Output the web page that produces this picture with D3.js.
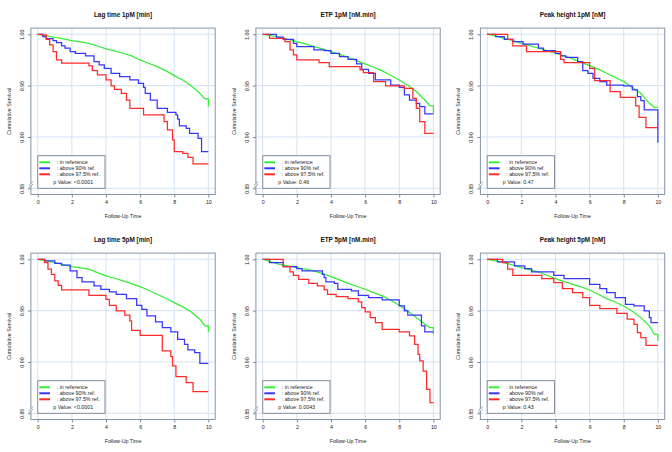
<!DOCTYPE html>
<html lang="en">
<head>
<meta charset="UTF-8">
<title>Cumulative Survival panels</title>
<script src="https://d3js.org/d3.v7.min.js"></script>
<style>
  body { margin: 0; background: #fff; }
  svg { display: block; font-family: "Liberation Sans", Arial, sans-serif; }
  .title { font-size: 6.4px; font-weight: bold; fill: #111; }
  .lbl { font-size: 5.3px; fill: #222; font-family: "Liberation Sans", Arial, sans-serif; }
  .axis text { font-size: 5.3px; fill: #222; font-family: "Liberation Sans", Arial, sans-serif; }
  .axis line { stroke: #7d8c9c; }
  .axis path { display: none; }
  .grid { stroke: #d3e3f3; stroke-width: 1; }
  .frame { fill: none; stroke: #8494a5; stroke-width: 1; }
  .curve { fill: none; stroke-width: 1.25; }
  .legend-box { fill: #fff; stroke: #7f8e9e; stroke-width: 1; }
</style>
</head>
<body>
<svg width="672" height="452"></svg>
<script>
// panel titles and test results
const titles = [
    "Lag time 1pM [min]", "ETP 1pM [nM.min]", "Peak height 1pM [nM]",
    "Lag time 5pM [min]", "ETP 5pM [nM.min]", "Peak height 5pM [nM]"
];
const pValues = ["<0.0001", "0.46", "0.47", "<0.0001", "0.0043", "0.43"];
const groups = ["in reference", "above 90% ref.", "above 97.5% ref."];
const colors = ["#33ee33", "#3636ff", "#ff2a2a"];
const xTicks = [0, 2, 4, 6, 8, 10];
const yTicks = [0.85, 0.90, 0.95, 1.00];

// [time, cumulative survival]
const lag1_ref = [[0,1],[0.5,.9984],[1,.9971],[1.5,.9955],[2,.9938],[2.5,.9925],[3,.9912],[3.5,.9886],[4,.9857],[4.5,.9838],[5,.9815],[5.5,.9789],[6,.975],[6.5,.9718],[7,.9685],[7.5,.9646],[8,.9597],[8.5,.9555],[9,.9497],[9.5,.9425],[9.8,.937],[10,.937],[10,.930]];
const lag1_p90 = [[0,1],[0.3,.9977],[0.5,.9958],[0.9,.9938],[1.1,.9919],[1.4,.9886],[1.6,.9864],[1.9,.9831],[2.2,.9815],[2.8,.9789],[3.3,.9734],[3.6,.9701],[3.9,.9669],[4.3,.962],[4.8,.9588],[5.4,.9555],[5.9,.9523],[6.2,.9484],[6.3,.9425],[6.6,.936],[7.0,.9279],[7.6,.924],[8.1,.9214],[8.2,.9175],[8.3,.9107],[8.7,.9084],[8.9,.9036],[9.4,.8987],[9.6,.8857],[10,.8857]];
const lag1_p975 = [[0,1],[0.3,.9994],[0.5,.9951],[0.7,.9896],[0.9,.9831],[1.1,.975],[1.4,.9718],[3.0,.9692],[3.2,.9646],[3.5,.9604],[4.0,.9555],[4.3,.9497],[4.5,.9464],[4.9,.9425],[5.2,.936],[5.4,.9279],[6.2,.9214],[7.4,.9149],[7.6,.9068],[7.9,.8971],[8.0,.8857],[8.5,.8841],[8.8,.8802],[9.1,.8737],[10,.8737]];

const etp1_ref = [[0,1],[0.5,.9987],[1,.9971],[1.5,.9951],[2,.9929],[2.5,.9906],[3,.988],[3.5,.9857],[4,.9831],[4.5,.9805],[5,.9776],[5.5,.9743],[6,.9711],[6.5,.9679],[7,.9643],[7.5,.9601],[8,.9555],[8.5,.9503],[9,.9442],[9.5,.936],[9.8,.9302],[10,.9302],[10,.923]];
const etp1_p90 = [[0,1],[0.8,.9971],[1.2,.9951],[1.8,.9912],[2.0,.988],[3.0,.9847],[3.6,.9841],[4.0,.9815],[4.5,.9782],[5.0,.9756],[5.5,.9711],[5.8,.9659],[6.2,.962],[6.6,.9555],[7.5,.9506],[8.0,.9484],[8.3,.9409],[8.6,.936],[9.0,.9328],[9.2,.9295],[9.5,.9224],[10,.9224]];
const etp1_p975 = [[0,1],[0.4,.9961],[1.3,.9929],[1.6,.9847],[1.8,.9799],[2.0,.975],[3.3,.9724],[3.9,.9685],[5.7,.9653],[5.9,.9627],[6.5,.9539],[7.2,.9497],[8.3,.9474],[8.8,.9377],[9.0,.9279],[9.2,.9149],[9.5,.9036],[10,.9036]];

const peak1_ref = [[0,1],[0.5,.9981],[1,.9961],[1.5,.9938],[2,.9912],[2.5,.989],[3,.9864],[3.5,.9841],[4,.9815],[4.5,.9789],[5,.976],[5.5,.9727],[6,.9695],[6.5,.966],[7,.962],[7.5,.9581],[8,.9539],[8.5,.9484],[9,.9425],[9.5,.9328],[9.8,.9289],[10,.9289]];
const peak1_p90 = [[0,1],[0.5,.9977],[1,.9951],[1.5,.9929],[2.1,.9903],[3.0,.9864],[3.3,.9841],[4.0,.9815],[4.3,.9789],[4.6,.9776],[5.3,.9734],[5.6,.9646],[5.9,.962],[6.2,.9571],[6.6,.9539],[7.0,.9506],[8.0,.9497],[8.5,.9458],[8.8,.9393],[9.0,.9354],[9.2,.9263],[10,.8945]];
const peak1_p975 = [[0,1],[1.2,.9951],[1.5,.9886],[2.3,.9831],[4.3,.9756],[4.5,.9724],[6.0,.9669],[6.3,.9549],[7.2,.9442],[7.8,.9386],[8.7,.9302],[8.9,.9192],[9.3,.9091],[10,.9091]];

const lag5_ref = [[0,1],[0.5,.9984],[1,.9968],[1.5,.9948],[2,.9929],[2.5,.9916],[3,.9903],[3.5,.987],[4,.9838],[4.5,.9815],[5,.9789],[5.5,.9763],[6,.9734],[6.5,.9698],[7,.9659],[7.5,.962],[8,.9578],[8.5,.9536],[9,.9487],[9.5,.9416],[9.8,.9351],[10,.9351],[10,.9292]];
const lag5_p90 = [[0,1],[0.4,.9984],[1.0,.9961],[1.4,.9942],[1.9,.9886],[2.3,.9821],[2.6,.9779],[3.3,.974],[3.7,.9708],[4.2,.9682],[4.6,.9659],[5.2,.9617],[5.8,.9552],[6.1,.9513],[6.4,.9448],[6.9,.939],[7.3,.9334],[7.8,.9292],[8.2,.9221],[8.6,.9172],[8.8,.9117],[9.2,.9091],[9.5,.8987],[10,.8987]];
const lag5_p975 = [[0,1],[0.4,.9968],[0.6,.9903],[0.8,.9854],[1.0,.9789],[1.2,.9747],[1.4,.9701],[3.0,.9649],[4.0,.961],[4.2,.9552],[4.6,.9497],[5.1,.9455],[5.4,.9399],[5.5,.9308],[6.0,.926],[7.3,.9107],[7.8,.9052],[7.9,.8961],[8.1,.8857],[8.7,.8799],[9.1,.8711],[10,.8711]];

const etp5_ref = [[0,1],[0.5,.9974],[1,.9951],[1.5,.9935],[2,.9919],[2.5,.9903],[3,.9886],[3.5,.986],[4,.9831],[4.5,.9799],[5,.9766],[5.5,.9737],[6,.9708],[6.5,.9675],[7,.9643],[7.5,.9601],[8,.9552],[8.5,.9497],[9,.9432],[9.5,.9367],[9.8,.9334],[10,.9334],[10,.9269]];
const etp5_p90 = [[0,1],[0.4,.9968],[1.2,.9929],[2.0,.9909],[2.3,.9886],[3.5,.9854],[3.6,.9821],[3.7,.9779],[4.2,.9766],[4.4,.9708],[5.2,.9692],[5.6,.9649],[6.2,.9627],[7.0,.9604],[8.0,.9545],[8.3,.9497],[8.5,.9455],[9.3,.9351],[9.5,.9292],[10,.9292]];
const etp5_p975 = [[0,1],[1.2,.9929],[1.6,.9877],[1.8,.9844],[2.1,.9805],[2.7,.9766],[3.2,.974],[3.6,.9701],[3.8,.9659],[4.3,.9636],[5.0,.9617],[5.6,.9584],[5.8,.9529],[6.0,.9487],[6.3,.9432],[6.6,.9383],[7.0,.9318],[8.0,.9292],[8.6,.9253],[8.9,.9172],[9.1,.9075],[9.2,.901],[9.4,.8912],[9.6,.8734],[9.8,.8604],[10,.8604]];

const peak5_ref = [[0,1],[0.5,.9984],[1,.9968],[1.5,.9942],[2,.9919],[2.5,.9896],[3,.9877],[3.5,.9844],[4,.9812],[4.5,.9782],[5,.9756],[5.5,.9731],[6,.9701],[6.5,.9659],[7,.9617],[7.5,.9584],[8,.9545],[8.5,.9494],[9,.9432],[9.5,.9351],[9.8,.9269],[10,.9269],[10,.9205]];
const peak5_p90 = [[0,1],[0.6,.9974],[1.6,.9935],[2.2,.9909],[2.6,.9877],[3.9,.9844],[4.5,.9812],[6.0,.9756],[6.6,.9714],[7.0,.9675],[7.5,.9627],[8.1,.9562],[8.6,.9545],[9.2,.9497],[9.5,.9432],[9.6,.9383],[10,.9383]];
const peak5_p975 = [[0,1],[0.9,.9968],[1.2,.9903],[1.5,.9844],[3.2,.9812],[3.9,.9773],[4.4,.9714],[5.0,.9675],[5.6,.9627],[6.0,.9552],[6.6,.9519],[7.6,.9474],[8.2,.9416],[8.6,.9367],[8.8,.9286],[9.0,.9237],[9.3,.9162],[10,.9162]];

const panelSeries = [
    [lag1_ref, lag1_p90, lag1_p975],
    [etp1_ref, etp1_p90, etp1_p975],
    [peak1_ref, peak1_p90, peak1_p975],
    [lag5_ref, lag5_p90, lag5_p975],
    [etp5_ref, etp5_p90, etp5_p975],
    [peak5_ref, peak5_p90, peak5_p975]
];

const svg = d3.select("svg");

// one panel's scales, offsets handled by a group transform
const x = d3.scaleLinear().domain([-0.4, 10.4]).range([30.9, 215.2]);
const y = d3.scaleLinear().domain([0.844, 1.006]).range([194.5, 28.1]);
const colOffset = [0, 225, 449.5];
const rowOffset = [0, 225];

// reference group has many tiny steps -> draw it as a fine line,
// the smaller groups keep their visible steps
const stepLine = d3.line()
    .x(d => x(d[0]))
    .y(d => y(d[1]))
    .curve(d3.curveStepAfter);
const fineLine = d3.line()
    .x(d => x(d[0]))
    .y(d => y(d[1]));

titles.forEach((title, i) => {
    const g = svg.append("g")
        .attr("transform", `translate(${colOffset[i % 3]},${rowOffset[Math.floor(i / 3)]})`);

    // grid
    g.selectAll(".vgrid").data(xTicks).enter().append("line")
        .attr("class", "grid")
        .attr("x1", d => x(d)).attr("x2", d => x(d))
        .attr("y1", y.range()[1]).attr("y2", y.range()[0]);
    g.selectAll(".hgrid").data(yTicks).enter().append("line")
        .attr("class", "grid")
        .attr("x1", x.range()[0]).attr("x2", x.range()[1])
        .attr("y1", d => y(d)).attr("y2", d => y(d));

    // curves
    panelSeries[i].forEach((s, k) => {
        g.append("path")
            .datum(s)
            .attr("class", "curve")
            .attr("stroke", colors[k])
            .attr("d", k === 0 ? fineLine : stepLine);
    });

    // frame
    g.append("rect")
        .attr("class", "frame")
        .attr("x", x.range()[0]).attr("y", y.range()[1])
        .attr("width", x.range()[1] - x.range()[0])
        .attr("height", y.range()[0] - y.range()[1]);

    // axes
    g.append("g")
        .attr("class", "axis")
        .attr("transform", `translate(0,${y.range()[0]})`)
        .call(d3.axisBottom(x).tickValues(xTicks).tickSize(3).tickPadding(2.3).tickFormat(d3.format("d")));

    const ya = g.append("g")
        .attr("class", "axis")
        .attr("transform", `translate(${x.range()[0]},0)`)
        .call(d3.axisLeft(y).tickValues(yTicks).tickSize(3).tickFormat(d3.format(".2f")));
    ya.selectAll("text")
        .attr("transform", "rotate(-90)")
        .attr("text-anchor", "middle")
        .attr("x", 0)
        .attr("y", -7.3)
        .attr("dy", 0);

    // axis break
    const bx = x.range()[0], by = 184.8;
    g.append("rect").attr("x", bx - 0.8).attr("y", by - 1.2).attr("width", 1.6).attr("height", 2.4).attr("fill", "#fff");
    [-1.2, 1.2].forEach(o => {
        g.append("line")
            .attr("x1", bx - 2.2).attr("y1", by + o + 2)
            .attr("x2", bx + 2.2).attr("y2", by + o - 2)
            .attr("stroke", "#7d8c9c").attr("stroke-width", 0.8);
    });

    // titles and labels
    g.append("text")
        .attr("class", "title")
        .attr("x", (x.range()[0] + x.range()[1]) / 2)
        .attr("y", 17.4)
        .attr("text-anchor", "middle")
        .text(title);
    g.append("text")
        .attr("class", "lbl")
        .attr("x", (x.range()[0] + x.range()[1]) / 2)
        .attr("y", 218.3)
        .attr("text-anchor", "middle")
        .text("Follow-Up Time");
    g.append("text")
        .attr("class", "lbl")
        .attr("transform", `translate(10.9,${(y.range()[0] + y.range()[1]) / 2}) rotate(-90)`)
        .attr("text-anchor", "middle")
        .text("Cumulative Survival");

    // legend
    const lg = g.append("g");
    lg.append("rect")
        .attr("class", "legend-box")
        .attr("x", x(0)).attr("y", 155.7)
        .attr("width", 67.3).attr("height", y(0.85) - 155.7);
    groups.forEach((name, k) => {
        const ly = 162.3 + k * 6;
        lg.append("line")
            .attr("x1", x(0) + 1.6).attr("x2", x(0) + 12.3)
            .attr("y1", ly).attr("y2", ly)
            .attr("stroke", colors[k]).attr("stroke-width", 2);
        lg.append("text")
            .attr("class", "lbl")
            .attr("x", x(0) + 19)
            .attr("y", ly + 1.9)
            .text(": " + name);
    });
    lg.append("text")
        .attr("class", "lbl")
        .attr("x", x(0) + 15.6)
        .attr("y", 183.6)
        .text("p Value: " + pValues[i]);
});
</script>
</body>
</html>
